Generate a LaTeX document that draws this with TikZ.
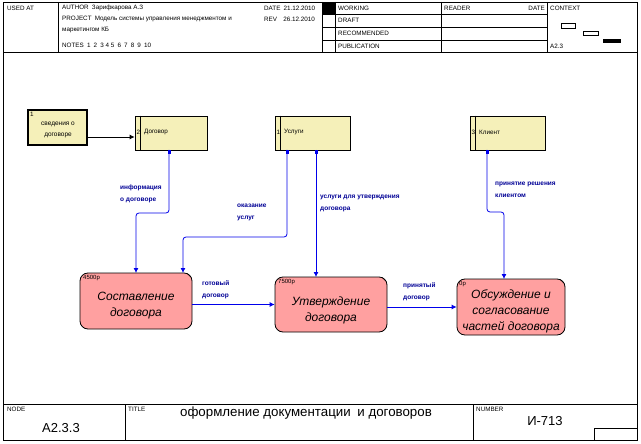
\documentclass[tikz,border=0pt]{standalone}
\usepackage{fontspec}
\setmainfont{Liberation Sans}
\usetikzlibrary{arrows.meta,calc}
\definecolor{procfill}{RGB}{255,160,160}
\definecolor{boxfill}{RGB}{245,240,185}
\definecolor{flowblue}{RGB}{0,0,235}
\definecolor{lblblue}{RGB}{0,0,150}
\begin{document}
\begin{tikzpicture}[x=1pt,y=-1pt,
  hdr/.style={font=\fontsize{6.3}{7}\selectfont, anchor=west, inner sep=0},
  big/.style={font=\fontsize{13}{14}\selectfont, inner sep=0},
  proc/.style={draw, fill=procfill, rounded corners=8pt, line width=0.8pt, inner sep=0},
  proctext/.style={align=center, inner sep=0, font=\fontsize{12}{16}\selectfont\itshape},
  cost/.style={font=\fontsize{6}{6}\selectfont, anchor=west, inner sep=0},
  ext/.style={draw, fill=boxfill, line width=0.8pt, inner sep=0},
  exttext/.style={font=\fontsize{6.3}{7}\selectfont, anchor=west, inner sep=0},
  flow/.style={draw=flowblue, line width=0.8pt, -{Latex[length=5pt,width=5pt]}, rounded corners=3pt},
  srcmark/.style={fill=flowblue, inner sep=0, minimum width=3pt, minimum height=4pt},
  lbl/.style={text=lblblue, font=\fontsize{6.5}{12}\selectfont\bfseries, align=left, anchor=north west, inner sep=0},
]
\useasboundingbox (0,0) rectangle (641,444);
\fill[white] (0,0) rectangle (641,444);

% ---- frame ----
\draw[line width=0.8pt] (3,2) rectangle (637,440);
\draw[line width=0.8pt] (3,52) -- (637,52);
\draw[line width=0.8pt] (3,404) -- (637,404);
% header verticals
\foreach \x in {58,322,335,441,547} \draw[line width=0.6pt] (\x,2) -- (\x,52);
\foreach \y in {14,27,40} \draw[line width=0.6pt] (322,\y) -- (547,\y);
\fill (322,2) rectangle (335,14);
% context
\draw[line width=0.6pt] (561,23) rectangle (575,28);
\draw[line width=0.6pt] (583,31) rectangle (598,35);
\fill (603,39) rectangle (621,43);
% footer
\draw[line width=0.6pt] (125,404) -- (125,440);
\draw[line width=0.6pt] (473,404) -- (473,440);
\draw[line width=0.6pt] (594,428) rectangle (637,440);

% ---- header texts ----
\node[hdr] (usedat) at (7,8) {USED AT};
\node[hdr] (author) at (62,8) {AUTHOR\enspace Зарифкарова А.З};
\node[hdr] (project) at (62,19) {PROJECT\enspace Модель системы управления менеджментом и};
\node[hdr] (project2) at (62,30) {маркетингом КБ};
\node[hdr] (notes) at (62,45) {NOTES\enspace 1\enspace 2\enspace 3 4 5\enspace 6\enspace 7\enspace 8\enspace 9\enspace 10};
\node[hdr] (date) at (264,8) {DATE\enspace 21.12.2010};
\node[hdr] (rev) at (264,19) {REV\enspace\enspace 26.12.2010};
\node[hdr] (working) at (338,8) {WORKING};
\node[hdr] (draft) at (338,20.5) {DRAFT};
\node[hdr] (recom) at (338,33.5) {RECOMMENDED};
\node[hdr] (publ) at (338,46) {PUBLICATION};
\node[hdr] (reader) at (444,8) {READER};
\node[hdr,anchor=east] (rdate) at (545,8) {DATE};
\node[hdr] (context) at (550,8) {CONTEXT};
\node[hdr] (ctxnode) at (550,46) {A2.3};

% ---- footer texts ----
\node[hdr] (nodelbl) at (7,409) {NODE};
\node[hdr] (titlelbl) at (128,409) {TITLE};
\node[hdr] (numlbl) at (476,409) {NUMBER};
\node[big] (nodeval) at (61,428) {А2.3.3};
\node[font=\fontsize{13.3}{14}\selectfont, inner sep=0] (titleval) at (306,413) {оформление документации\enspace и договоров};
\node[big] (numval) at (545,421) {И-713};

% ---- external boxes ----
\node[ext, line width=2pt, minimum width=59pt, minimum height=35pt] (sved) at (57.5,127.5) {};
\node[font=\fontsize{6.5}{11}\selectfont, align=center, inner sep=0] (svedt) at (58,130) {сведения о\\договоре};
\node[exttext] (sved1) at (30,114) {1};

\node[ext, minimum width=72pt, minimum height=34pt] (dog) at (171,133) {};
\draw[line width=0.8pt] ($(dog.north west)+(6,0)$) -- ($(dog.south west)+(6,0)$);
\node[exttext] (dog2) at (136.5,132) {2};
\node[exttext] (dogt) at (144,132) {Договор};

\node[ext, minimum width=75pt, minimum height=34pt] (usl) at (312.5,133) {};
\draw[line width=0.8pt] ($(usl.north west)+(6,0)$) -- ($(usl.south west)+(6,0)$);
\node[exttext] (usl1) at (276.5,132) {1};
\node[exttext] (uslt) at (284,132) {Услуги};

\node[ext, minimum width=75pt, minimum height=34pt] (kli) at (507.5,133) {};
\draw[line width=0.8pt] ($(kli.north west)+(6,0)$) -- ($(kli.south west)+(6,0)$);
\node[exttext] (kli3) at (471.5,132) {3};
\node[exttext] (klit) at (479,132) {Клиент};

% ---- processes ----
\node[proc, minimum width=112pt, minimum height=56pt] (p1) at (136,301) {};
\node[proctext] (p1t) at (136,306) {Составление\\договора};
\node[cost] (p1c) at (83,278) {4500р};
\draw[line width=0.5pt] ($(p1.north east)+(-5,1)$) -- ($(p1.north east)+(-2,4)$);

\node[proc, minimum width=112pt, minimum height=55pt] (p2) at (331,304.5) {};
\node[proctext] (p2t) at (331,310) {Утверждение\\договора};
\node[cost] (p2c) at (278,282) {7500р};
\draw[line width=0.5pt] ($(p2.north east)+(-5,1)$) -- ($(p2.north east)+(-2,4)$);

\node[proc, minimum width=108pt, minimum height=56pt] (p3) at (511,307) {};
\node[proctext] (p3t) at (511,311) {Обсуждение и\\согласование\\частей договора};
\node[cost] (p3c) at (459,284) {0р};
\draw[line width=0.5pt] ($(p3.north east)+(-5,1)$) -- ($(p3.north east)+(-2,4)$);

% ---- flow endpoints ----
\coordinate (s1) at (169,150);
\coordinate (s2) at (287,150);
\coordinate (s3) at (316,150);
\coordinate (s4) at (487,150);
\coordinate (t1) at (136,273);
\coordinate (t2) at (183,273);
\coordinate (t3) at (316,277);
\coordinate (t4) at (504,279);
\coordinate (j1) at (136,213);
\coordinate (j2) at (183,237);
\coordinate (j4) at (504,212);

\foreach \s in {s1,s2,s3,s4} \node[srcmark, anchor=north] at (\s) {};

% ---- connectors ----
\draw[line width=0.8pt, -{Latex[length=5pt,width=5pt]}] (sved.east |- 0,137) -- (dog.west |- 0,137);
\draw[flow] (s1) |- (j1) -- (t1);
\draw[flow] (s2) |- (j2) -- (t2);
\draw[flow] (s3) -- (t3);
\draw[flow] (s4) |- (j4) -- (t4);
\draw[flow] (p1.east |- p2.west) -- (p2.west);
\draw[flow] (p2.east |- p3.west) -- (p3.west);

% ---- labels ----
\node[lbl] (l1) at (120,185) {информация\\о договоре};
\node[lbl] (l2) at (237,204) {оказание\\услуг};
\node[lbl] (l3) at (320,195) {услуги для утверждения\\договора};
\node[lbl] (l4) at (495,182) {принятие решения\\клиентом};
\node[lbl] (l5) at (202,280) {готовый\\договор};
\node[lbl] (l6) at (403,282) {принятый\\договор};
\end{tikzpicture}
\end{document}
